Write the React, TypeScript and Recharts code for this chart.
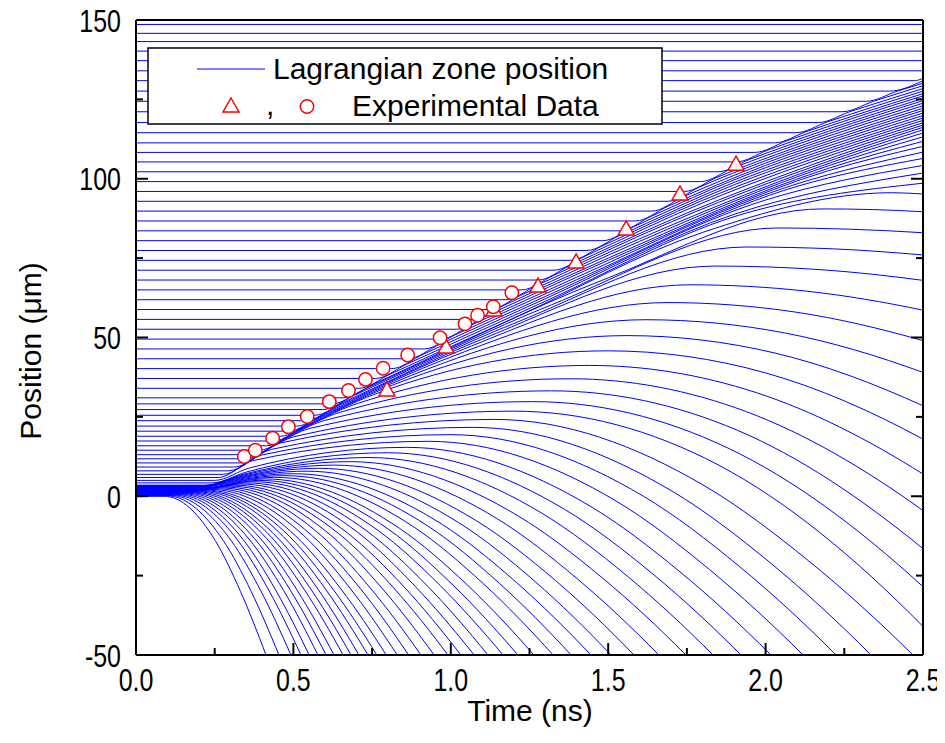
import { ComposedChart, Line, Scatter, XAxis, YAxis } from "recharts"

type Pt = [number, number]

// zones blown off toward the laser side (they leave the frame through -50 um)
const ablatedZones: Pt[][] = [
  [[0, 0], [0.09, 0], [0.252, -14], [0.332, -30], [0.413, -50], [0.513, -78]],
  [[0, 0.11], [0.1, 0.12], [0.277, -13.9], [0.366, -30], [0.454, -50], [0.554, -75.5]],
  [[0, 0.22], [0.11, 0.25], [0.301, -13.8], [0.397, -29.9], [0.492, -50], [0.592, -73.7]],
  [[0, 0.33], [0.12, 0.38], [0.322, -13.7], [0.423, -29.8], [0.524, -50], [0.624, -72.4]],
  [[0, 0.44], [0.13, 0.52], [0.34, -13.6], [0.445, -29.8], [0.55, -50], [0.65, -71.6]],
  [[0, 0.55], [0.14, 0.66], [0.359, -13.5], [0.469, -29.7], [0.578, -50], [0.678, -70.8]],
  [[0, 0.65], [0.15, 0.8], [0.377, -13.4], [0.491, -29.7], [0.604, -50], [0.704, -70.1]],
  [[0, 0.76], [0.16, 0.95], [0.395, -13.3], [0.512, -29.6], [0.629, -50], [0.729, -69.6]],
  [[0, 0.87], [0.17, 1.1], [0.414, -13.2], [0.536, -29.6], [0.658, -50], [0.758, -68.8]],
  [[0, 0.98], [0.18, 1.26], [0.432, -13.1], [0.557, -29.5], [0.683, -50], [0.783, -68.3]],
  [[0, 1.09], [0.19, 1.42], [0.449, -13], [0.579, -29.4], [0.708, -50], [0.808, -67.9]],
  [[0, 1.2], [0.2, 1.6], [0.469, -12.8], [0.603, -29.4], [0.737, -50], [0.837, -67.3]],
  [[0, 1.31], [0.21, 1.78], [0.488, -12.7], [0.626, -29.3], [0.765, -50], [0.865, -66.8]],
  [[0, 1.42], [0.22, 1.97], [0.508, -12.6], [0.651, -29.2], [0.795, -50], [0.895, -66.3]],
  [[0, 1.53], [0.168, 1.53], [0.235, 2.17], [0.533, -12.4], [0.681, -29.1], [0.83, -50], [0.93, -65.8]],
  [[0, 1.64], [0.171, 1.64], [0.25, 2.4], [0.558, -12.3], [0.712, -29], [0.866, -50], [0.966, -65.3]],
  [[0, 1.74], [0.175, 1.74], [0.265, 2.65], [0.585, -12.1], [0.745, -29], [0.905, -50], [1.005, -64.8]],
  [[0, 1.85], [0.178, 1.85], [0.28, 2.9], [0.614, -11.9], [0.78, -28.8], [0.947, -50], [1.047, -64.3]],
  [[0, 1.96], [0.182, 1.96], [0.295, 3.2], [0.643, -11.7], [0.817, -28.7], [0.991, -50], [1.091, -63.8]],
  [[0, 2.07], [0.186, 2.07], [0.31, 3.5], [0.671, -11.5], [0.852, -28.6], [1.032, -50], [1.132, -63.3]],
  [[0, 2.18], [0.189, 2.18], [0.33, 3.85], [0.702, -11.2], [0.888, -28.5], [1.074, -50], [1.174, -63]],
  [[0, 2.29], [0.193, 2.29], [0.35, 4.2], [0.734, -11], [0.926, -28.3], [1.118, -50], [1.218, -62.7]],
  [[0, 2.4], [0.197, 2.4], [0.37, 4.6], [0.768, -10.7], [0.967, -28.2], [1.166, -50], [1.266, -62.3]],
  [[0, 2.51], [0.2, 2.51], [0.39, 5], [0.802, -10.4], [1.007, -28], [1.213, -50], [1.313, -62]],
  [[0, 2.62], [0.202, 2.62], [0.26, 3.5], [0.41, 5.45], [0.837, -10.1], [1.051, -27.8], [1.264, -50], [1.364, -61.7]],
  [[0, 2.73], [0.205, 2.73], [0.27, 3.9], [0.44, 5.95], [0.883, -9.7], [1.104, -27.6], [1.325, -50], [1.425, -61.4]],
  [[0, 2.84], [0.207, 2.84], [0.28, 4.3], [0.47, 6.5], [0.926, -9.3], [1.154, -27.4], [1.382, -50], [1.482, -61.2]],
  [[0, 2.94], [0.209, 2.94], [0.29, 4.7], [0.5, 7.1], [0.973, -8.9], [1.209, -27.2], [1.445, -50], [1.545, -60.9]],
  [[0, 3.05], [0.211, 3.05], [0.3, 5.1], [0.54, 7.9], [1.025, -8.3], [1.267, -26.8], [1.509, -50], [1.609, -60.8]],
  [[0, 3.16], [0.213, 3.16], [0.31, 5.5], [0.58, 8.8], [1.081, -7.7], [1.332, -26.5], [1.582, -50], [1.682, -60.6]],
  [[0, 3.27], [0.215, 3.27], [0.32, 5.9], [0.63, 9.8], [1.146, -7], [1.403, -26.1], [1.661, -50], [1.761, -60.4]],
  [[0, 3.38], [0.218, 3.38], [0.33, 6.4], [0.68, 10.9], [1.214, -6.2], [1.48, -25.6], [1.747, -50], [1.847, -60.3]],
  [[0, 3.49], [0.22, 3.49], [0.34, 6.9], [0.74, 12.2], [1.287, -5.2], [1.56, -25.1], [1.833, -50], [1.933, -60.2]],
  [[0, 4.2], [0.24, 4.2], [0.35, 7.6], [0.8, 13.7], [1.361, -4.1], [1.642, -24.5], [1.922, -50], [2.022, -60.2]],
  [[0, 5], [0.25, 5], [0.36, 8.9], [0.86, 15.4], [1.439, -2.9], [1.728, -23.8], [2.017, -50], [2.117, -60.2]],
  [[0, 5.9], [0.262, 5.9], [0.37, 11.2], [0.93, 17.3], [1.525, -1.5], [1.822, -23.1], [2.119, -50], [2.219, -60.2]],
  [[0, 6.9], [0.277, 6.9], [0.4, 13], [1.0, 19.4], [1.612, 0], [1.918, -22.2], [2.224, -50], [2.324, -60.2]],
  [[0, 8], [0.293, 8], [0.43, 14.75], [1.07, 21.7], [1.703, 1.6], [2.019, -21.3], [2.335, -50], [2.435, -60.2]],
  [[0, 9.2], [0.31, 9.2], [0.46, 16.8], [1.14, 24.2], [1.804, 3.4], [2.136, -20.3], [2.468, -50], [2.568, -60.1]],
]

// zones that leave the compressed shell but are still inside the frame at 2.5 ns
const releasedZones: Pt[][] = [
  [[0, 10.5], [0.33, 10.5], [0.43, 15.4], [0.5, 18.7], [1.2, 26.8], [1.85, 9.85], [2.5, -41], [2.6, -51.4]],
  [[0, 11.8], [0.352, 11.8], [0.452, 16.75], [0.55, 21.3], [1.26, 29.8], [1.88, 15.2], [2.5, -28.5], [2.6, -37.9]],
  [[0, 13.1], [0.371, 13.1], [0.471, 18], [0.6, 23.9], [1.32, 33.2], [1.91, 20.8], [2.5, -16.5], [2.6, -24.9]],
  [[0, 14.5], [0.392, 14.5], [0.492, 19.4], [0.65, 26.5], [1.38, 37], [1.94, 26.6], [2.5, -4.5], [2.6, -11.9]],
  [[0, 15.9], [0.414, 15.9], [0.514, 20.7], [0.7, 29.1], [1.44, 41.2], [1.97, 32.65], [2.5, 7], [2.6, 0.5]],
  [[0, 17.4], [0.437, 17.4], [0.537, 22.1], [0.76, 32.2], [1.5, 45.8], [2.0, 38.85], [2.5, 18], [2.6, 12.4]],
  [[0, 18.9], [0.459, 18.9], [0.559, 23.55], [0.82, 35.2], [1.56, 50.6], [2.03, 45.1], [2.5, 28.5], [2.6, 23.8]],
  [[0, 20.5], [0.484, 20.5], [0.584, 25], [0.88, 38.3], [1.62, 55.6], [2.06, 51.45], [2.5, 39], [2.6, 35.2]],
  [[0, 22.1], [0.51, 22.1], [0.61, 26.6], [0.95, 41.9], [1.69, 61], [2.095, 58], [2.5, 49], [2.6, 46]],
  [[0, 23.8], [0.538, 23.8], [0.638, 28.3], [1.02, 45.5], [1.76, 66.6], [2.13, 64.6], [2.5, 58.6], [2.6, 56.4]],
  [[0, 25.5], [0.567, 25.5], [0.667, 30], [1.1, 49.5], [1.84, 72.5], [2.17, 71.4], [2.5, 68], [2.6, 66.6]],
  [[0, 27.3], [0.593, 27.3], [0.693, 31.8], [1.2, 54.4], [1.94, 78.5], [2.22, 77.9], [2.5, 76], [2.6, 75.1]],
  [[0, 29.1], [0.623, 29.1], [0.723, 33.6], [1.32, 60.3], [2.04, 84.5], [2.27, 84.1], [2.5, 83], [2.6, 82.3]],
  [[0, 31], [0.658, 31], [0.758, 35.5], [1.48, 68], [2.18, 90.5], [2.34, 90.3], [2.5, 89.6], [2.6, 89]],
]

// zones swept up by the shock and still moving with the shell
const shockedZones: Pt[][] = [
  [[0, 34], [0.708, 34], [0.808, 38.5], [1.2, 56.1], [1.8, 83.1], [2.4, 95.6], [2.5, 95.2]],
  [[0, 37.1], [0.76, 37.1], [0.86, 41.6], [1.3, 61.4], [1.9, 88.05], [2.5, 98.6]],
  [[0, 40.2], [0.812, 40.2], [0.912, 44.7], [1.3, 62.2], [1.9, 88.8], [2.5, 101.8]],
  [[0, 43.3], [0.863, 43.3], [0.963, 47.8], [1.3, 62.9], [2.0, 93.3], [2.5, 104.2]],
  [[0, 46.4], [0.915, 46.4], [1.015, 50.9], [1.4, 68.2], [2.1, 97.6], [2.5, 106.4]],
  [[0, 49.5], [0.967, 49.5], [1.067, 54], [1.4, 69], [2.1, 98.4], [2.5, 108.4]],
  [[0, 52.6], [1.018, 52.6], [1.118, 57.1], [1.5, 74.3], [2.2, 102.55], [2.5, 110.2]],
  [[0, 55.7], [1.07, 55.7], [1.17, 60.2], [1.5, 75], [2.2, 103.3], [2.5, 111.8]],
  [[0, 58.8], [1.122, 58.8], [1.222, 63.3], [1.6, 80.3], [2.2, 104.1], [2.5, 113.2]],
  [[0, 61.9], [1.173, 61.9], [1.273, 66.4], [1.6, 81.1], [2.3, 108.2], [2.5, 114.4]],
  [[0, 65], [1.225, 65], [1.325, 69.5], [1.7, 86.4], [2.3, 108.95], [2.5, 115.4]],
  [[0, 68.1], [1.277, 68.1], [1.377, 72.6], [1.7, 87.1], [2.3, 109.7], [2.5, 116.2]],
  [[0, 71.2], [1.328, 71.2], [1.428, 75.7], [1.8, 92.4], [2.3, 110.5], [2.5, 116.9]],
  [[0, 74.3], [1.38, 74.3], [1.48, 78.8], [1.8, 93.2], [2.3, 111.3], [2.5, 117.6]],
  [[0, 77.4], [1.432, 77.4], [1.532, 81.9], [1.9, 98.1], [2.3, 112.05], [2.5, 118.4]],
  [[0, 80.5], [1.483, 80.5], [1.583, 85], [1.9, 98.85], [2.3, 112.8], [2.5, 119.1]],
  [[0, 83.6], [1.535, 83.6], [1.635, 88.1], [1.9, 99.65], [2.3, 113.6], [2.5, 119.9]],
  [[0, 86.7], [1.587, 86.7], [1.687, 91.2], [2.0, 104.2], [2.3, 114.4], [2.5, 120.7]],
  [[0, 89.8], [1.638, 89.8], [1.738, 94.3], [2.0, 104.95], [2.3, 115.15], [2.5, 121.5]],
  [[0, 92.9], [1.69, 92.9], [1.79, 97.4], [2.0, 105.7], [2.3, 115.9], [2.5, 122.2]],
  [[0, 96], [1.742, 96], [1.842, 100.3], [2.1, 110], [2.5, 123]],
  [[0, 99.1], [1.793, 99.1], [1.893, 103.2], [2.1, 110.8], [2.5, 123.8]],
  [[0, 102.2], [1.849, 102.2], [1.949, 106.1], [2.2, 114.95], [2.5, 124.6]],
  [[0, 105.3], [1.906, 105.3], [2.006, 109], [2.2, 115.7], [2.5, 125.3]],
  [[0, 108.3], [1.966, 108.3], [2.066, 111.9], [2.3, 119.8], [2.5, 126.1]],
  [[0, 111.3], [2.028, 111.3], [2.128, 114.8], [2.3, 120.5], [2.5, 126.8]],
  [[0, 114.5], [2.096, 114.5], [2.196, 117.9], [2.35, 122.9], [2.5, 127.6]],
  [[0, 117.7], [2.167, 117.7], [2.267, 121.1], [2.4, 125.3], [2.5, 128.4]],
  [[0, 121.1], [2.243, 121.1], [2.343, 124.4], [2.5, 129.3]],
  [[0, 124.4], [2.319, 124.4], [2.419, 127.6], [2.5, 130.1]],
  [[0, 127.6], [2.393, 127.6], [2.5, 130.9]],
  [[0, 130.9], [2.473, 130.9], [2.5, 131.6]],
]

// zones the shock has not reached yet
const unshockedZones: Pt[][] = [
  [[0, 134], [2.5, 134]],
  [[0, 137.2], [2.5, 137.2]],
  [[0, 140.2], [2.5, 140.2]],
  [[0, 143.2], [2.5, 143.2]],
  [[0, 145.8], [2.5, 145.8]],
  [[0, 148.6], [2.5, 148.6]],
]

const triangleData: Pt[] = [
  [0.797, 33.5], [0.985, 47], [1.137, 58.7], [1.277, 66.2],
  [1.398, 73.8], [1.557, 84.2], [1.728, 95.2], [1.906, 104.6],
]

const circleData: Pt[] = [
  [0.344, 12.5], [0.379, 14.5], [0.434, 18.3], [0.484, 21.9], [0.544, 25.1],
  [0.614, 29.8], [0.675, 33.3], [0.729, 36.8], [0.785, 40.3], [0.863, 44.5],
  [0.966, 49.9], [1.045, 54.3], [1.085, 57], [1.135, 59.7], [1.194, 64.1],
]

const timeTicks = [0, 0.5, 1, 1.5, 2, 2.5]
const timeMinorTicks = [0.25, 0.75, 1.25, 1.75, 2.25]
const posTicks = [-50, 0, 50, 100, 150]
const posMinorTicks = [-25, 25, 75, 125]

const FONT = "'Liberation Sans', Arial, sans-serif"
const BLUE = "#0000ff"
const RED = "#ff0000"

const toRows = (pts: Pt[]) => pts.map(([t, y]) => ({ t, y }))
const zoneRows = [...ablatedZones, ...releasedZones, ...shockedZones, ...unshockedZones].map(toRows)
const allTimeTicks = [...timeTicks, ...timeMinorTicks].sort((a, b) => a - b)
const allPosTicks = [...posTicks, ...posMinorTicks].sort((a, b) => a - b)

const MAJOR = 12
const MINOR = 7

function BottomTick({ x, y, payload }: any) {
  const major = timeTicks.includes(payload.value)
  return (
    <g>
      <line x1={x} x2={x} y1={y} y2={y - (major ? MAJOR : MINOR)} stroke="#000" strokeWidth={2} />
      {major && (
        <text
          transform={`translate(${x},${y + 36}) scale(0.78,1)`}
          textAnchor="middle"
          fontSize={32}
          fontFamily={FONT}
          fill="#000"
        >
          {payload.value.toFixed(1)}
        </text>
      )}
    </g>
  )
}

function TopTick({ x, y, payload }: any) {
  const major = timeTicks.includes(payload.value)
  return <line x1={x} x2={x} y1={y} y2={y + (major ? MAJOR : MINOR)} stroke="#000" strokeWidth={2} />
}

function LeftTick({ x, y, payload }: any) {
  const major = posTicks.includes(payload.value)
  return (
    <g>
      <line x1={x} x2={x + (major ? MAJOR : MINOR)} y1={y} y2={y} stroke="#000" strokeWidth={2} />
      {major && (
        <text
          transform={`translate(${x - 15},${y + 11.5}) scale(0.78,1)`}
          textAnchor="end"
          fontSize={32}
          fontFamily={FONT}
          fill="#000"
        >
          {payload.value}
        </text>
      )}
    </g>
  )
}

function RightTick({ x, y, payload }: any) {
  const major = posTicks.includes(payload.value)
  return <line x1={x} x2={x - (major ? MAJOR : MINOR)} y1={y} y2={y} stroke="#000" strokeWidth={2} />
}

const Triangle = ({ cx, cy }: any) => (
  <path
    d={`M${cx},${cy - 8} L${cx + 8},${cy + 6} L${cx - 8},${cy + 6} Z`}
    fill="#fff"
    stroke={RED}
    strokeWidth={1.5}
  />
)

const Circle = ({ cx, cy }: any) => (
  <circle cx={cx} cy={cy} r={6.7} fill="#fff" stroke={RED} strokeWidth={1.5} />
)

// the chart is pulled over the body margin so it can use page coordinates
const W = 945
const H = 735

export default function App() {
  return (
    <div style={{ position: "relative", width: W, height: H, margin: "-8px 0 0 -8px", background: "#fff" }}>
      <ComposedChart width={W} height={H} margin={{ top: 20, right: 22, bottom: 0, left: 0 }}>
        <XAxis
          type="number"
          dataKey="t"
          domain={[0, 2.5]}
          allowDataOverflow
          ticks={allTimeTicks}
          interval={0}
          tick={BottomTick}
          tickLine={false}
          tickSize={0}
          tickMargin={0}
          height={80}
          axisLine={{ stroke: "#000", strokeWidth: 2 }}
        />
        <XAxis
          xAxisId="top"
          orientation="top"
          mirror
          type="number"
          domain={[0, 2.5]}
          allowDataOverflow
          ticks={allTimeTicks}
          interval={0}
          tick={TopTick}
          tickLine={false}
          tickSize={0}
          tickMargin={0}
          height={1}
          axisLine={{ stroke: "#000", strokeWidth: 2 }}
        />
        <YAxis
          type="number"
          dataKey="y"
          domain={[-50, 150]}
          allowDataOverflow
          ticks={allPosTicks}
          interval={0}
          tick={LeftTick}
          tickLine={false}
          tickSize={0}
          tickMargin={0}
          width={136}
          axisLine={{ stroke: "#000", strokeWidth: 2 }}
        />
        <YAxis
          yAxisId="right"
          orientation="right"
          mirror
          type="number"
          domain={[-50, 150]}
          allowDataOverflow
          ticks={allPosTicks}
          interval={0}
          tick={RightTick}
          tickLine={false}
          tickSize={0}
          tickMargin={0}
          width={1}
          axisLine={{ stroke: "#000", strokeWidth: 2 }}
        />
        {zoneRows.map((rows, i) => (
          <Line
            key={i}
            data={rows}
            dataKey="y"
            type="monotone"
            stroke={BLUE}
            strokeWidth={1}
            dot={false}
            activeDot={false}
            isAnimationActive={false}
          />
        ))}
        <Scatter data={toRows(triangleData)} dataKey="y" shape={Triangle} isAnimationActive={false} />
        <Scatter data={toRows(circleData)} dataKey="y" shape={Circle} isAnimationActive={false} />
      </ComposedChart>

      <svg
        width={W}
        height={H}
        style={{ position: "absolute", left: 0, top: 0, pointerEvents: "none" }}
        fontFamily={FONT}
      >
        <text transform="translate(41,351) rotate(-90)" textAnchor="middle" fontSize={30} fill="#000">
          Position (μm)
        </text>
        <text x={530} y={721} textAnchor="middle" fontSize={30} fill="#000">
          Time (ns)
        </text>

        <rect x={148} y={48} width={514} height={76} fill="#fff" stroke="#000" strokeWidth={1.5} />
        <line x1={197} x2={265} y1={69} y2={69} stroke={BLUE} strokeWidth={1} />
        <text x={273} y={79} fontSize={30} fill="#000">
          Lagrangian zone position
        </text>
        <Triangle cx={231} cy={106} />
        <text x={266} y={115} fontSize={30} fill="#000">
          ,
        </text>
        <Circle cx={307} cy={106.5} />
        <text x={352} y={116} fontSize={30} fill="#000">
          Experimental Data
        </text>
      </svg>
    </div>
  )
}
